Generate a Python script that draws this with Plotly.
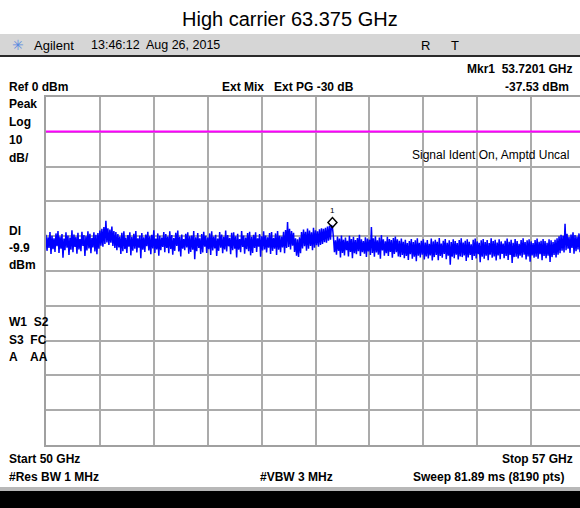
import numpy as np
import plotly.graph_objects as go

# ---------------- data ----------------
start_ghz = 50.0
stop_ghz = 57.0
ref_level_dbm = 0
db_per_div = 10
display_line_dbm = -9.9
mkr_freq_ghz = 53.7201
mkr_level_dbm = -37.53

trace_dbm = [
    -39.6, -44.2, -40.3, -43.4, -38.8, -45.1, -39.9, -43.7, -40.6, -44.5,
    -39.2, -42.9, -38.5, -44.8, -40.1, -43.6, -39.4, -46.2, -40.7, -44.0,
    -38.9, -43.3, -39.8, -45.4, -40.4, -43.9, -38.3, -44.6, -39.5, -43.1,
    -40.2, -45.0, -39.0, -43.8, -40.8, -44.3, -38.7, -42.8, -39.7, -45.7,
    -40.0, -44.1, -38.6, -43.5, -39.3, -44.9, -40.5, -43.2, -38.9, -44.4,
    -39.6, -45.2, -39.1, -43.6, -38.4, -42.7, -37.9, -43.0, -37.4, -42.2,
    -35.6, -41.8, -37.7, -42.5, -38.1, -41.9, -37.2, -42.8, -38.5, -43.4,
    -38.8, -44.0, -39.4, -43.2, -40.1, -45.1, -39.0, -44.3, -38.6, -43.7,
    -40.4, -44.8, -39.7, -43.0, -38.9, -45.5, -40.2, -44.2, -39.3, -43.6,
    -38.5, -44.7, -40.6, -43.3, -39.8, -46.3, -39.1, -43.9, -40.3, -44.5,
    -39.5, -42.9, -38.7, -44.1, -40.0, -45.2, -39.6, -43.5, -38.3, -44.8,
    -40.7, -43.8, -39.2, -45.6, -39.9, -44.0, -40.4, -43.1, -38.8, -44.6,
    -39.4, -43.4, -40.1, -44.9, -38.6, -43.7, -39.7, -45.3, -40.5, -44.2,
    -39.0, -42.8, -38.4, -44.4, -40.2, -45.8, -39.5, -43.6, -40.8, -44.0,
    -39.3, -43.2, -38.9, -45.0, -40.0, -44.5, -39.8, -43.9, -38.5, -46.6,
    -40.3, -44.3, -39.1, -43.4, -40.6, -45.1, -39.4, -44.7, -38.7, -43.0,
    -39.9, -44.8, -40.4, -43.7, -39.2, -45.4, -38.6, -44.1, -40.1, -43.5,
    -39.6, -45.7, -40.7, -44.2, -38.8, -43.3, -39.5, -44.9, -40.2, -43.8,
    -38.4, -44.4, -39.7, -42.9, -40.5, -45.2, -39.0, -44.0, -38.9, -43.6,
    -40.0, -46.1, -39.3, -43.9, -40.8, -44.6, -38.5, -43.1, -39.8, -45.0,
    -40.4, -43.7, -39.1, -44.3, -38.7, -45.5, -40.2, -44.8, -39.6, -43.4,
    -38.9, -44.5, -40.6, -43.0, -39.4, -45.9, -40.0, -44.1, -38.6, -43.8,
    -39.8, -44.7, -40.3, -43.3, -39.1, -45.1, -38.8, -44.2, -40.5, -43.6,
    -39.2, -45.4, -38.5, -43.9, -39.9, -44.6, -40.1, -43.2, -38.7, -44.9,
    -38.2, -43.4, -35.9, -43.1, -37.9, -43.8, -38.5, -42.7, -39.0, -44.5,
    -40.6, -45.6, -40.9, -46.0, -40.3, -44.9, -38.8, -43.5, -38.1, -42.9,
    -38.7, -44.2, -37.8, -43.6, -38.4, -42.8, -38.9, -44.0, -37.6, -43.3,
    -38.3, -42.6, -38.6, -43.0, -38.0, -42.5, -37.7, -42.2, -37.9, -41.7,
    -37.6, -41.9, -37.2, -41.3, -37.0, -41.0, -36.8, -37.53, -40.4, -44.6,
    -41.2, -45.3, -40.1, -44.2, -40.7, -46.1, -39.8, -44.8, -41.0, -45.5,
    -40.4, -44.0, -41.3, -45.8, -39.9, -44.5, -40.8, -46.3, -40.2, -44.9,
    -41.1, -45.2, -40.5, -44.3, -39.6, -45.7, -40.9, -44.6, -41.4, -45.0,
    -40.3, -46.0, -40.7, -44.4, -41.0, -45.4, -37.4, -44.8, -40.6, -45.9,
    -40.0, -44.7, -41.2, -45.3, -40.4, -46.5, -39.7, -44.1, -40.9, -45.6,
    -41.5, -44.9, -40.2, -45.7, -40.8, -44.5, -41.1, -46.2, -40.5, -45.1,
    -40.1, -44.6, -40.9, -45.8, -41.3, -46.0, -40.7, -45.4, -41.6, -46.3,
    -41.0, -45.7, -42.0, -46.8, -41.4, -45.2, -40.8, -46.5, -41.7, -45.9,
    -41.2, -47.2, -40.6, -45.6, -41.9, -46.1, -41.3, -45.3, -40.9, -46.7,
    -41.8, -45.8, -41.1, -46.4, -42.2, -45.5, -40.7, -47.0, -41.5, -46.0,
    -41.0, -45.4, -41.6, -46.9, -40.5, -45.7, -42.1, -46.2, -41.3, -45.1,
    -40.8, -46.6, -41.9, -45.6, -41.2, -48.2, -41.7, -45.9, -40.9, -46.3,
    -41.4, -45.3, -42.0, -46.7, -41.1, -45.8, -40.6, -46.0, -41.8, -45.5,
    -41.3, -47.1, -40.9, -46.1, -41.6, -45.4, -42.3, -46.8, -41.0, -45.7,
    -40.7, -46.4, -41.5, -45.2, -41.9, -47.5, -41.2, -45.9, -40.8, -46.5,
    -41.7, -45.6, -41.1, -46.9, -42.0, -45.3, -40.6, -46.2, -41.4, -45.8,
    -41.0, -47.0, -41.8, -45.5, -40.9, -46.6, -41.5, -45.1, -42.1, -46.3,
    -41.3, -45.7, -40.7, -46.8, -41.6, -45.4, -41.0, -47.7, -41.9, -46.0,
    -40.8, -45.9, -41.4, -46.4, -42.2, -45.6, -41.1, -46.1, -40.6, -45.3,
    -41.7, -46.7, -41.2, -45.8, -40.9, -47.3, -41.5, -45.5, -42.0, -46.2,
    -41.1, -45.9, -40.7, -46.5, -41.6, -45.2, -41.3, -46.9, -40.8, -45.7,
    -41.4, -46.3, -41.9, -45.6, -40.9, -47.4, -41.2, -46.0, -41.7, -45.4,
    -41.0, -46.1, -40.6, -45.3, -40.0, -44.9, -39.6, -44.2, -39.9, -44.7,
    -36.4, -44.0, -39.3, -43.6, -40.2, -44.8, -39.5, -43.4, -38.9, -45.0,
    -39.7, -44.3, -40.1, -43.8, -39.2, -44.6, -38.7, -43.9, -39.8, -44.1,
    -39.4,
]
freq_ghz = np.linspace(start_ghz, stop_ghz, len(trace_dbm))

# ---------------- layout geometry ----------------
W, H = 580, 508
L, R, T, B = 46, 0, 97, 63
PW, PH = W - L - R, H - T - B
FULL_W = 539  # full 10-division screen width in px (right part cropped)
x_max = start_ghz + (stop_ghz - start_ghz) * PW / FULL_W
div_ghz = (stop_ghz - start_ghz) / 10

FONT = "Liberation Sans, Arial, sans-serif"


def P(px, py):
    return (px - L) / PW, (H - B - py) / PH


annotations = []


def txt(s, px, py, anchor="left", size=12, bold=True, color="black", family=FONT):
    x, y = P(px, py)
    annotations.append(dict(
        text=f"<b>{s}</b>" if bold else s, x=x, y=y, xref="paper", yref="paper",
        xanchor=anchor, yanchor="middle", showarrow=False,
        font=dict(size=size, color=color, family=family)))


shapes = []


def rect(px0, py0, px1, py1, color):
    x0, y0 = P(px0, py0)
    x1, y1 = P(px1, py1)
    shapes.append(dict(type="rect", xref="paper", yref="paper", x0=x0, x1=x1,
                       y0=y0, y1=y1, fillcolor=color, line=dict(width=0), layer="below"))


# header bar
rect(0, 34, W, 55, "#d6d6d6")
rect(0, 55, W, 57, "#2a2a2a")
# bottom bar
rect(0, 487, W, 491, "#b8b8b8")
rect(0, 491, W, H, "#000000")

# display line
shapes.append(dict(type="line", xref="paper", yref="y", x0=0, x1=1,
                   y0=display_line_dbm, y1=display_line_dbm,
                   line=dict(color="#ff00ff", width=2)))
# marker diamond (drawn just above the marked point)
shapes.append(dict(type="path", xref="x", yref="y", xsizemode="pixel", ysizemode="pixel",
                   xanchor=mkr_freq_ghz, yanchor=mkr_level_dbm,
                   path="M0,0 L4.5,5 L0,10 L-4.5,5 Z",
                   line=dict(color="black", width=1.5)))
annotations.append(dict(text="1", x=mkr_freq_ghz, y=mkr_level_dbm, xref="x", yref="y",
                        yshift=17, showarrow=False, font=dict(size=8, color="black", family=FONT)))

# texts
txt("High carrier 63.375 GHz", 290, 19, anchor="center", size=20, bold=False)
txt("✳", 18, 45, anchor="center", size=14, bold=False, color="#5b8be0",
    family="DejaVu Sans")
txt("Agilent", 32, 45, size=13, bold=False)
txt("13:46:12  Aug 26, 2015", 89, 45, size=12.5, bold=False)
txt("R", 425, 45, anchor="center", size=13, bold=False)
txt("T", 455, 45, anchor="center", size=13, bold=False)

txt(f"Mkr1  {mkr_freq_ghz:.4f} GHz", 574, 69, anchor="right")
txt(f"Ref {ref_level_dbm} dBm", 7, 87)
txt("Ext Mix   Ext PG -30 dB", 220, 87)
txt(f"{mkr_level_dbm:.2f} dBm", 571, 87, anchor="right")

txt("Peak", 7, 104)
txt("Log", 7, 122)
txt(f"{db_per_div}", 7, 140)
txt("dB/", 7, 158)
txt("Dl", 7, 231)
txt(f"{display_line_dbm}", 7, 248)
txt("dBm", 7, 265)
txt("W1  S2", 7, 322)
txt("S3  FC", 7, 340)
txt("A    AA", 7, 357)

txt("Signal Ident On, Amptd Uncal", 571, 155, anchor="right", size=12, bold=False)

txt(f"Start {start_ghz:g} GHz", 7, 459)
txt(f"Stop {stop_ghz:g} GHz", 575, 459, anchor="right")
txt("#Res BW 1 MHz", 7, 477)
txt("#VBW 3 MHz", 258, 477)
txt("Sweep 81.89 ms (8190 pts)", 566, 477, anchor="right")

fig = go.Figure()
fig.add_trace(go.Scatter(x=freq_ghz, y=trace_dbm, mode="lines",
                         line=dict(color="#0000ff", width=1.5), hoverinfo="skip"))

fig.update_layout(
    width=W, height=H,
    margin=dict(l=L, r=R, t=T, b=B, pad=0),
    paper_bgcolor="white", plot_bgcolor="white",
    showlegend=False,
    shapes=shapes, annotations=annotations,
    xaxis=dict(range=[start_ghz, x_max], tick0=start_ghz, dtick=div_ghz,
               showticklabels=False, ticks="", showgrid=True,
               gridcolor="#ababab", gridwidth=1.5, zeroline=False,
               showline=True, linecolor="#a0a0a0", linewidth=2, mirror=True),
    yaxis=dict(range=[ref_level_dbm - 10 * db_per_div, ref_level_dbm], tick0=0,
               dtick=db_per_div, showticklabels=False, ticks="", showgrid=True,
               gridcolor="#ababab", gridwidth=1.5, zeroline=False,
               showline=True, linecolor="#a0a0a0", linewidth=2, mirror=False),
)

fig.write_html(
    "out.html",
    config={"displayModeBar": False},
    post_script="document.body.style.margin='0';document.body.style.overflow='hidden';",
)
